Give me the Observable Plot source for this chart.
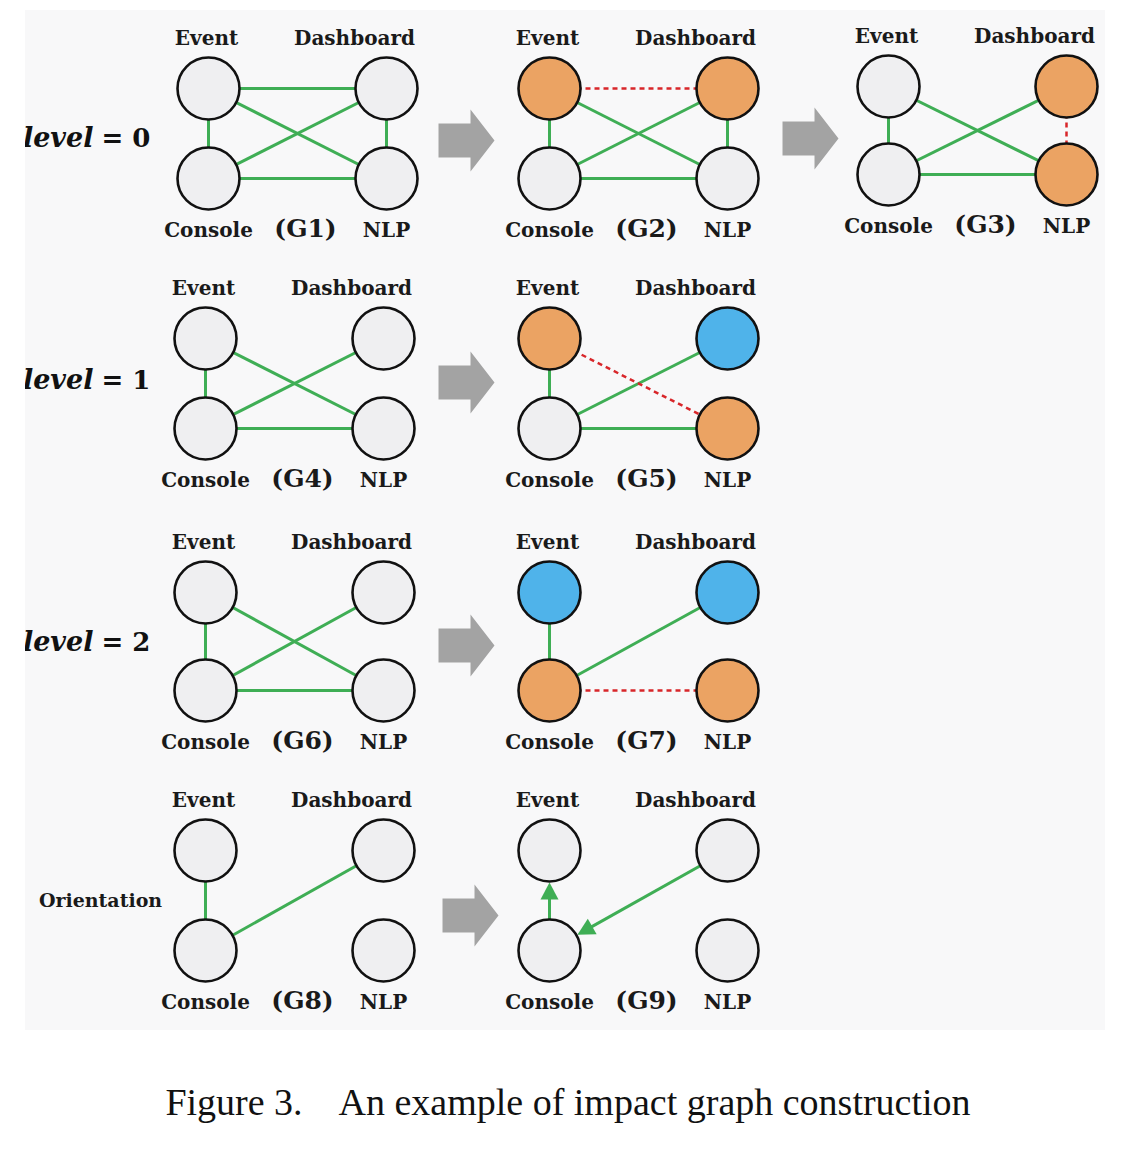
<!DOCTYPE html>
<html>
<head>
<meta charset="utf-8">
<script src="https://cdn.jsdelivr.net/npm/d3@7"></script>
<script src="https://cdn.jsdelivr.net/npm/@observablehq/plot@0.6"></script>
<style>
  body { margin: 0; background: #fff; }
  #chart { position: absolute; left: 25px; top: 10px; }
  #caption { position: absolute; top: 1080px; left: 0; width: 1136px; text-align: center;
    font-family: "Liberation Serif", serif; font-size: 38px; color: #111; white-space: pre; }
</style>
</head>
<body>
<div id="chart"></div>
<div id="caption">Figure 3.    An example of impact graph construction</div>
<script>
// graph layout: left column x, top row y, bottom row y
const graphNames = ["G1", "G2", "G3", "G4", "G5", "G6", "G7", "G8", "G9"];
const graphLeft  = [208, 549, 888, 205, 549, 205, 549, 205, 549];
const graphTop   = [88, 88, 86, 338, 338, 592, 592, 850, 850];
const graphBot   = [178, 178, 174, 428, 428, 690, 690, 950, 950];
const graphSpan  = 178;

// node fills per graph in order Event, Dashboard, Console, NLP  (g = gray, o = orange, b = blue)
const nodeKeys = ["Event", "Dashboard", "Console", "NLP"];
const nodeFill = [
  "gggg", "oogg", "gogo", "gggg", "obgo", "gggg", "bboo", "gggg", "gggg"
];

// edges per graph: from-to-type (s = solid green, d = dashed red)
const graphEdges = [
  ["ED-s", "EC-s", "DN-s", "EN-s", "CD-s", "CN-s"],
  ["ED-d", "EC-s", "DN-s", "EN-s", "CD-s", "CN-s"],
  ["EC-s", "EN-s", "CD-s", "CN-s", "DN-d"],
  ["EC-s", "EN-s", "CD-s", "CN-s"],
  ["EC-s", "EN-d", "CD-s", "CN-s"],
  ["EC-s", "EN-s", "CD-s", "CN-s"],
  ["EC-s", "CD-s", "CN-d"],
  ["EC-s", "CD-s"],
  []
];
// directed edges (G9)
const graphArrows = [[], [], [], [], [], [], [], [], ["CE", "DC"]];

// row labels
const rowLabelY = [138, 380, 642];
const rowLabelText = ["= 0", "= 1", "= 2"];
const orientationY = 900;

// big transition arrows
const bigArrowX = [466, 810, 466, 466, 470];
const bigArrowY = [140, 138, 382, 645, 915];

const fills = {g: "#efeff1", o: "#eba363", b: "#4fb3ea"};
const green = "#3fae55";
const R = 31;

function pos(i, k) {
  const x = graphLeft[i] + (k === "D" || k === "N" ? graphSpan : 0);
  const y = (k === "E" || k === "D") ? graphTop[i] : graphBot[i];
  return [x, y];
}

const nodes = [], edges = [], heads = [], labels = [];
graphNames.forEach((g, i) => {
  nodeKeys.forEach((n, j) => {
    const [x, y] = pos(i, n[0]);
    nodes.push({x, y, fill: fills[nodeFill[i][j]]});
  });
  graphEdges[i].forEach(e => {
    const [a, b] = [pos(i, e[0]), pos(i, e[1])];
    edges.push({x1: a[0], y1: a[1], x2: b[0], y2: b[1], type: e[3]});
  });
  graphArrows[i].forEach(e => {
    const [a, b] = [pos(i, e[0]), pos(i, e[1])];
    const dx = b[0] - a[0], dy = b[1] - a[1], len = Math.hypot(dx, dy);
    const tx = b[0] - dx / len * (R + 1), ty = b[1] - dy / len * (R + 1);
    edges.push({x1: a[0], y1: a[1], x2: tx - dx / len * 10, y2: ty - dy / len * 10, type: "s"});
    heads.push({x: tx, y: ty, angle: Math.atan2(dy, dx) * 180 / Math.PI});
  });
  const L = graphLeft[i], Rx = L + graphSpan;
  labels.push({x: L - 2, y: graphTop[i] - 50, t: "Event"});
  labels.push({x: Rx - 32, y: graphTop[i] - 50, t: "Dashboard"});
  labels.push({x: L, y: graphBot[i] + 52, t: "Console"});
  labels.push({x: Rx, y: graphBot[i] + 52, t: "NLP"});
  labels.push({x: (L + Rx) / 2 + 8, y: graphBot[i] + 50, t: `(${g})`, big: true});
});

const bigArrows = bigArrowX.map((x, i) => ({x, y: bigArrowY[i]}));
const arrowSymbol = {
  draw(ctx) {
    ctx.moveTo(-28, -17); ctx.lineTo(4, -17); ctx.lineTo(4, -31); ctx.lineTo(28, 0);
    ctx.lineTo(4, 31); ctx.lineTo(4, 17); ctx.lineTo(-28, 17); ctx.closePath();
  }
};
const headSymbol = {
  draw(ctx) { ctx.moveTo(0, 0); ctx.lineTo(-17, -9); ctx.lineTo(-17, 9); ctx.closePath(); }
};

const font = "DejaVu Serif";
const chart = Plot.plot({
  width: 1080, height: 1020,
  margin: 0,
  x: {domain: [25, 1105], axis: null},
  y: {domain: [10, 1030], reverse: true, axis: null},
  style: {background: "#f8f8f9", fontFamily: font},
  marks: [
    Plot.dot(bigArrows, {x: "x", y: "y", symbol: arrowSymbol, fill: "#a3a3a3", stroke: "none"}),
    Plot.link(edges.filter(d => d.type === "s"), {x1: "x1", y1: "y1", x2: "x2", y2: "y2", stroke: green, strokeWidth: 3}),
    Plot.link(edges.filter(d => d.type === "d"), {x1: "x1", y1: "y1", x2: "x2", y2: "y2", stroke: "#d8262a", strokeWidth: 2.5, strokeDasharray: "5,4"}),
    Plot.dot(heads, {x: "x", y: "y", rotate: "angle", symbol: headSymbol, fill: green, stroke: "none"}),
    Plot.dot(nodes, {x: "x", y: "y", r: R, fill: "fill", stroke: "#111", strokeWidth: 2.6}),
    Plot.text(labels.filter(d => !d.big), {x: "x", y: "y", text: "t", fontSize: 20, fontWeight: "bold", fill: "#1a1a1a"}),
    Plot.text(labels.filter(d => d.big), {x: "x", y: "y", text: "t", fontSize: 25, fontWeight: "bold", fill: "#1a1a1a"}),
    Plot.text(rowLabelY, {x: 93, y: d => d, text: () => "level", textAnchor: "end", fontSize: 27, fontWeight: "bold", fontStyle: "italic", fill: "#111"}),
    Plot.text(rowLabelY, {x: 101, y: d => d, text: (d, i) => rowLabelText[i], textAnchor: "start", fontSize: 26, fontWeight: "bold", fill: "#111"}),
    Plot.text([orientationY], {x: 100, y: d => d, text: () => "Orientation", fontSize: 19, fontWeight: "bold", fill: "#1a1a1a"})
  ]
});
document.getElementById("chart").append(chart);
</script>
</body>
</html>
